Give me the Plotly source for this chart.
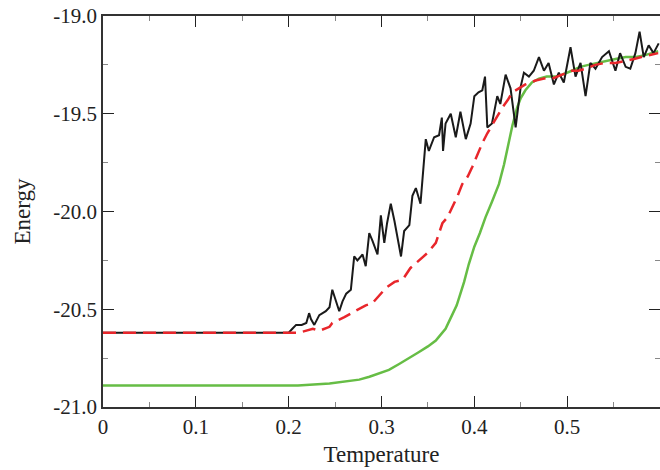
import plotly.graph_objects as go

# ---- data ----
black_x = [0, 0.05, 0.10, 0.15, 0.2, 0.204, 0.208, 0.214, 0.219, 0.222, 0.224, 0.2276, 0.233, 0.240, 0.244,
           0.247, 0.2545, 0.258, 0.262, 0.267, 0.2706, 0.274, 0.2796, 0.283, 0.2868, 0.2903, 0.2957, 0.2993,
           0.303, 0.306, 0.310, 0.314, 0.317, 0.321, 0.3244, 0.33, 0.3333, 0.337, 0.342, 0.3477, 0.351, 0.3567,
           0.362, 0.365, 0.3663, 0.369, 0.3746, 0.380, 0.385, 0.3908, 0.396, 0.400, 0.4045, 0.4086, 0.4115,
           0.414, 0.419, 0.4247, 0.428, 0.4337, 0.439, 0.4445, 0.45, 0.4534, 0.4588, 0.464, 0.4696, 0.475,
           0.480, 0.4857, 0.491, 0.4964, 0.5036, 0.509, 0.5144, 0.5198, 0.525, 0.5305, 0.5376, 0.545, 0.552,
           0.557, 0.563, 0.568, 0.5735, 0.578, 0.5825, 0.5878, 0.593, 0.5986]
black_y = [-20.62, -20.62, -20.62, -20.62, -20.62, -20.60, -20.58, -20.58, -20.57, -20.52, -20.55, -20.58,
           -20.53, -20.51, -20.49, -20.40, -20.51, -20.46, -20.42, -20.40, -20.23, -20.25, -20.22, -20.28,
           -20.11, -20.15, -20.22, -20.02, -20.16, -20.06, -19.96, -20.05, -20.13, -20.23, -20.10, -20.07,
           -19.92, -19.88, -19.96, -19.63, -19.69, -19.62, -19.61, -19.52, -19.69, -19.55, -19.50, -19.62,
           -19.49, -19.63, -19.55, -19.41, -19.39, -19.38, -19.31, -19.57, -19.55, -19.41, -19.45, -19.30,
           -19.37, -19.57, -19.36, -19.29, -19.31, -19.28, -19.21, -19.28, -19.24, -19.35, -19.29, -19.34,
           -19.16, -19.31, -19.24, -19.41, -19.24, -19.27, -19.21, -19.18, -19.28, -19.19, -19.26, -19.27,
           -19.19, -19.08, -19.21, -19.15, -19.19, -19.14]

red_x = [0, 0.1, 0.2, 0.211, 0.226, 0.233, 0.244, 0.247, 0.26, 0.272, 0.283, 0.29, 0.297, 0.305, 0.314,
         0.3226, 0.331, 0.3405, 0.35, 0.3585, 0.3656, 0.371, 0.376, 0.382, 0.387, 0.393, 0.398, 0.4086,
         0.414, 0.419, 0.4265, 0.430, 0.436, 0.441, 0.448, 0.455, 0.466, 0.475, 0.484, 0.495, 0.505, 0.512,
         0.52, 0.53, 0.541, 0.552, 0.563, 0.572, 0.58, 0.59, 0.598]
red_y = [-20.62, -20.62, -20.62, -20.62, -20.60, -20.61, -20.59, -20.57, -20.54, -20.51, -20.48, -20.47,
         -20.43, -20.39, -20.36, -20.35, -20.29, -20.25, -20.21, -20.16, -20.06, -20.03, -19.98, -19.92,
         -19.86, -19.82, -19.77, -19.65, -19.60, -19.56, -19.50, -19.47, -19.43, -19.39, -19.37, -19.35,
         -19.33, -19.32, -19.32, -19.30, -19.28, -19.28, -19.27, -19.25, -19.24, -19.24, -19.23, -19.22,
         -19.21, -19.20, -19.19]

green_x = [0, 0.1, 0.2, 0.21, 0.244, 0.26, 0.276, 0.287, 0.297, 0.308, 0.319, 0.33, 0.34, 0.35, 0.3585,
           0.362, 0.369, 0.376, 0.381, 0.385, 0.389, 0.394, 0.40, 0.406, 0.412, 0.419, 0.4265, 0.432, 0.437,
           0.441, 0.446, 0.450, 0.455, 0.462, 0.4696, 0.478, 0.4875, 0.495, 0.505, 0.514, 0.523, 0.532,
           0.541, 0.552, 0.563, 0.574, 0.584, 0.59, 0.598]
green_y = [-20.89, -20.89, -20.89, -20.89, -20.88, -20.87, -20.86, -20.845, -20.83, -20.81, -20.78, -20.75,
           -20.72, -20.69, -20.66, -20.64, -20.60, -20.53, -20.48, -20.42, -20.36, -20.27, -20.18, -20.11,
           -20.03, -19.95, -19.86, -19.76, -19.65, -19.56, -19.47, -19.42, -19.38, -19.34, -19.32, -19.31,
           -19.31, -19.30, -19.28, -19.26, -19.25, -19.24, -19.23, -19.22, -19.21, -19.21, -19.20, -19.19,
           -19.18]

x_tickvals = [0, 0.1, 0.2, 0.3, 0.4, 0.5]
x_ticktext = ["0", "0.1", "0.2", "0.3", "0.4", "0.5"]
y_tickvals = [-21.0, -20.5, -20.0, -19.5, -19.0]
y_ticktext = ["-21.0", "-20.5", "-20.0", "-19.5", "-19.0"]

FONT = "Liberation Serif"

fig = go.Figure()
fig.add_trace(go.Scatter(x=green_x, y=green_y, mode="lines",
                         line=dict(color="#66bd45", width=2.5), showlegend=False))
fig.add_trace(go.Scatter(x=black_x, y=black_y, mode="lines",
                         line=dict(color="#1a1a1a", width=2), showlegend=False))
fig.add_trace(go.Scatter(x=red_x, y=red_y, mode="lines",
                         line=dict(color="#e8262b", width=2.5, dash="13px,7px"), showlegend=False))

axis_common = dict(
    showgrid=False, zeroline=False, showline=True, linecolor="#333333", linewidth=1.5,
    mirror="ticks", ticks="inside", ticklen=11, tickwidth=1.2, tickcolor="#222222",
    tickfont=dict(family=FONT, size=21, color="#222222"), automargin=False,
    minor=dict(ticks="inside", ticklen=5, tickwidth=1.2, tickcolor="#888888", showgrid=False),
)

fig.update_xaxes(range=[0, 0.6], tickmode="array", tickvals=x_tickvals, ticktext=x_ticktext,
                 title=dict(text="Temperature", font=dict(family=FONT, size=23, color="#222222"), standoff=8),
                 **axis_common)
fig.update_xaxes(minor_dtick=0.05, minor_tick0=0)
fig.update_yaxes(range=[-21, -19], tickmode="array", tickvals=y_tickvals, ticktext=y_ticktext,
                 title=dict(text="Energy", font=dict(family=FONT, size=23, color="#222222"), standoff=16),
                 **axis_common)
fig.update_yaxes(minor_dtick=0.25, minor_tick0=-21)

fig.update_layout(
    width=660, height=470,
    margin=dict(l=103, r=0, t=16, b=63, autoexpand=False),
    paper_bgcolor="white", plot_bgcolor="white",
    font=dict(family=FONT),
)

fig.write_html("out.html", config={"displayModeBar": False},
               post_script="document.body.style.margin='0';document.body.style.overflow='hidden';")
